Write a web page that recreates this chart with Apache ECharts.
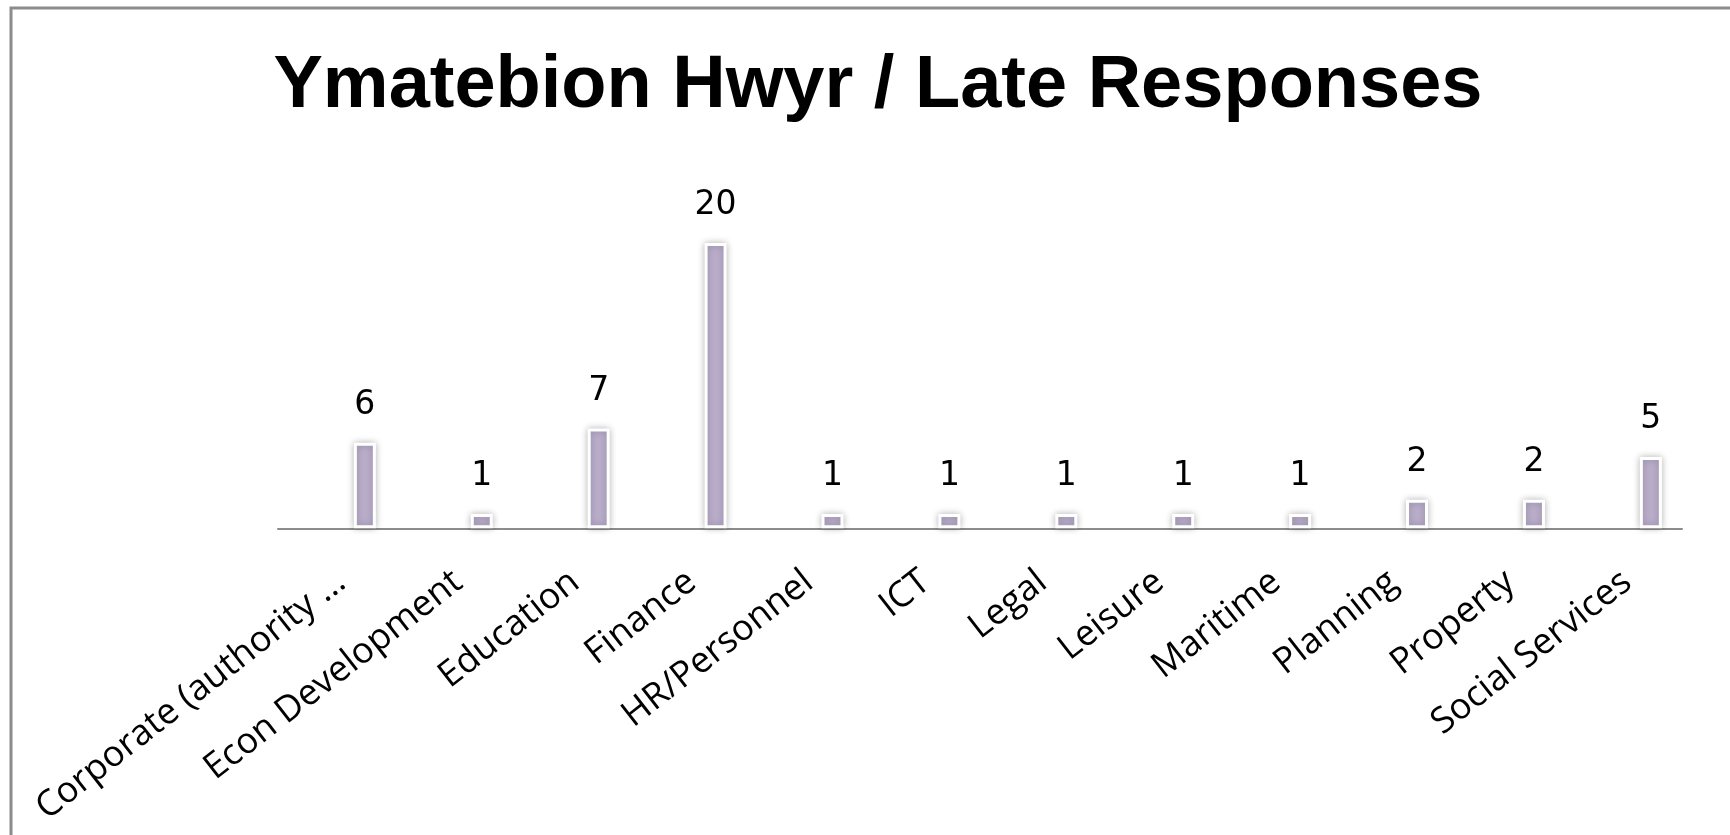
<!DOCTYPE html>
<html>
<head>
<meta charset="utf-8">
<script src="https://cdn.jsdelivr.net/npm/echarts@6/dist/echarts.min.js"></script>
<style>
html,body{margin:0;padding:0;background:#fff;}
#chart{width:1730px;height:835px;}
</style>
</head>
<body>
<div id="chart"></div>
<script>
const titleText = 'Ymatebion Hwyr / Late Responses';
const categories = ['Corporate (authority …', 'Econ Development', 'Education', 'Finance', 'HR/Personnel', 'ICT', 'Legal', 'Leisure', 'Maritime', 'Planning', 'Property', 'Social Services'];
const lateResponses = [6, 1, 7, 20, 1, 1, 1, 1, 1, 2, 2, 5];

const chart = echarts.init(document.getElementById('chart'));
const labelFont = '"Open Sans", sans-serif';
chart.setOption({
  animation: false,
  backgroundColor: '#fff',
  title: {
    text: titleText,
    left: 873,
    textAlign: 'center',
    top: 45,
    textStyle: { fontFamily: '"Liberation Sans", sans-serif', fontWeight: 'bold', fontSize: 74, color: '#000' }
  },
  graphic: [{
    type: 'rect', shape: { x: 11, y: 8, width: 1740, height: 850 },
    style: { fill: 'none', stroke: '#8c8c8c', lineWidth: 3 }, silent: true, z: -1
  }],
  grid: [
    { left: 306.4, right: 20.7, top: 171.7, bottom: 306.7, containLabel: false },
    { left: 278, right: 48, top: 171.7, bottom: 306.7, containLabel: false }
  ],
  xAxis: [{
    type: 'category', data: categories, gridIndex: 0,
    axisLine: { show: false }, axisTick: { show: false },
    axisLabel: { rotate: 38, margin: 31, interval: 0, padding: [0, 30, 0, 0], color: '#000', fontSize: 36, fontFamily: labelFont }
  }, {
    type: 'value', gridIndex: 1, min: 0, max: 1, position: 'bottom',
    axisLine: { show: true, onZero: false, lineStyle: { color: '#8c8c8c', width: 2 } },
    axisTick: { show: false }, axisLabel: { show: false }, splitLine: { show: false }
  }],
  yAxis: [{
    type: 'value', min: 0, max: 25, gridIndex: 0, show: false
  }, {
    type: 'value', min: 0, max: 1, gridIndex: 1, show: false
  }],
  series: [{
    type: 'bar', data: lateResponses, xAxisIndex: 0, yAxisIndex: 0,
    barWidth: 22,
    itemStyle: { color: '#b9adca', borderColor: '#ffffff', borderWidth: 3, shadowColor: 'rgba(0,0,0,0.25)', shadowBlur: 7 },
    label: { show: true, position: 'top', distance: 21, color: '#000', fontSize: 33, fontFamily: '"DejaVu Sans", sans-serif' }
  }]
});
</script>
</body>
</html>
